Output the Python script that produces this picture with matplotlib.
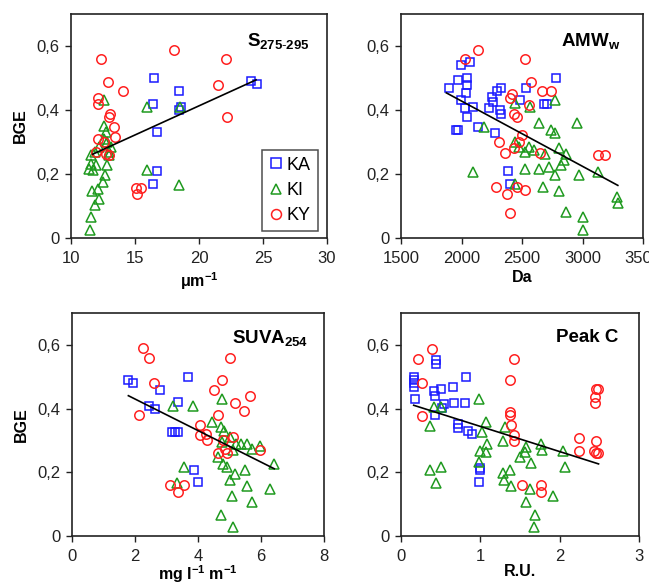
import matplotlib
matplotlib.use("Agg")
import matplotlib.pyplot as plt
import numpy as np

plt.rcParams['font.family'] = ['Liberation Sans', 'DejaVu Sans']
plt.rcParams['mathtext.fontset'] = 'custom'
plt.rcParams['mathtext.rm'] = 'Liberation Sans'
plt.rcParams['mathtext.bf'] = 'Liberation Sans:bold'
plt.rcParams['mathtext.it'] = 'Liberation Sans:italic'

# ---------------- Panel 1: S275-295 ----------------
s_ka_x = [16.5, 16.4, 18.4, 18.6, 18.4, 16.7, 16.7, 16.4, 24.1, 24.5]
s_ka_y = [0.50, 0.42, 0.46, 0.41, 0.40, 0.33, 0.21, 0.17, 0.49, 0.48]
s_ki_x = [12.56, 15.96, 18.52, 12.6, 12.7, 11.9, 11.57, 12.2, 12.8, 13.1, 12.99, 11.6, 11.44,
          11.7, 11.96, 12.8, 12.67, 12.5, 15.9, 18.42, 11.62, 12.09, 12.2, 11.9, 11.6, 11.5, 13.0, 12.6]
s_ki_y = [0.43, 0.41, 0.41, 0.35, 0.33, 0.27, 0.26, 0.285, 0.30, 0.285, 0.26, 0.23, 0.217,
          0.212, 0.228, 0.228, 0.196, 0.175, 0.212, 0.165, 0.147, 0.154, 0.123, 0.102, 0.066, 0.026, 0.27, 0.31]
s_ky_x = [12.35, 18.05, 22.08, 12.88, 14.05, 21.48, 12.09, 12.14, 13.06, 13.0, 22.16, 13.35, 13.4,
          12.09, 12.6, 11.96, 12.75, 13.0, 15.05, 15.5, 15.15]
s_ky_y = [0.558, 0.588, 0.558, 0.489, 0.459, 0.478, 0.438, 0.418, 0.389, 0.379, 0.379, 0.348, 0.316,
          0.308, 0.30, 0.269, 0.264, 0.259, 0.157, 0.157, 0.136]
s_fit = (0.0182, 0.049, 11.7, 24.46)   # slope, intercept, x start, x end

# ---------------- Panel 2: AMWw ----------------
a_ka_x = [1894, 1992, 2069, 1972, 2047, 2042, 2036, 1992, 2028, 2097, 2047, 2139, 1958, 1972, 2231,
          2256, 2264, 2292, 2328, 2319, 2325, 2278, 2381, 2397, 2536, 2486, 2681, 2708, 2778]
a_ka_y = [0.47, 0.54, 0.549, 0.494, 0.50, 0.478, 0.452, 0.431, 0.405, 0.408, 0.379, 0.348, 0.339, 0.339,
          0.407, 0.441, 0.426, 0.46, 0.468, 0.40, 0.389, 0.329, 0.209, 0.17, 0.47, 0.431, 0.419, 0.419, 0.499]
a_ki_x = [2097, 2189, 2439, 2564, 2769, 2644, 2736, 2769, 2958, 2444, 2472, 2528, 2556, 2597, 2694,
          2806, 2861, 2847, 2528, 2639, 2722, 2769, 2825, 2972, 3125, 2444, 2675, 2806, 2861, 3000,
          3008, 3286, 3292]
a_ki_y = [0.207, 0.348, 0.421, 0.408, 0.431, 0.358, 0.337, 0.327, 0.358, 0.30, 0.285, 0.269, 0.285,
          0.275, 0.264, 0.28, 0.264, 0.243, 0.217, 0.217, 0.222, 0.196, 0.228, 0.196, 0.207, 0.17,
          0.158, 0.147, 0.081, 0.066, 0.026, 0.128, 0.108]
a_ky_x = [2033, 2133, 2522, 2578, 2667, 2736, 2417, 2403, 2556, 2431, 2458, 2311, 2361, 2500, 2472,
          2431, 2647, 3125, 3186, 2283, 2375, 2458, 2528, 2397]
a_ky_y = [0.558, 0.588, 0.558, 0.489, 0.459, 0.459, 0.449, 0.438, 0.415, 0.389, 0.379, 0.299, 0.267,
          0.322, 0.30, 0.28, 0.267, 0.259, 0.259, 0.16, 0.139, 0.16, 0.149, 0.079]
a_fit = (-0.000204, 0.836, 1875, 3292)

# ---------------- Panel 3: SUVA254 ----------------
u_ka_x = [1.79, 1.95, 2.78, 3.69, 3.38, 2.46, 2.64, 3.17, 3.27, 3.38, 3.87, 4.01]
u_ka_y = [0.49, 0.48, 0.459, 0.50, 0.42, 0.409, 0.399, 0.328, 0.328, 0.328, 0.208, 0.17]
u_ki_x = [3.2, 3.83, 4.75, 4.46, 4.73, 4.83, 4.75, 5.01, 5.22, 5.38, 5.54, 5.7, 5.96, 5.12, 4.64,
          4.8, 4.91, 6.42, 5.49, 5.17, 5.01, 3.54, 3.32, 5.57, 6.28, 5.07, 5.72, 4.73, 5.12]
u_ki_y = [0.409, 0.409, 0.43, 0.359, 0.342, 0.329, 0.295, 0.31, 0.29, 0.29, 0.288, 0.274, 0.281,
          0.269, 0.248, 0.227, 0.217, 0.227, 0.206, 0.196, 0.175, 0.217, 0.167, 0.156, 0.146, 0.126,
          0.107, 0.066, 0.027]
u_ky_x = [2.25, 2.43, 5.03, 2.59, 4.75, 4.52, 5.65, 5.19, 5.47, 2.13, 4.62, 4.06, 4.06, 4.24, 4.28,
          4.78, 5.12, 4.85, 4.64, 4.91, 5.96, 3.1, 3.56, 3.36]
u_ky_y = [0.59, 0.558, 0.558, 0.479, 0.49, 0.459, 0.439, 0.417, 0.391, 0.38, 0.38, 0.349, 0.318,
          0.319, 0.30, 0.30, 0.31, 0.274, 0.26, 0.26, 0.271, 0.159, 0.159, 0.139]
u_fit = (-0.0495, 0.529, 1.79, 6.42)

# ---------------- Panel 4: Peak C ----------------
p_ka_x = [0.16, 0.17, 0.16, 0.17, 0.18, 0.44, 0.44, 0.41, 0.43, 0.51, 0.52, 0.54, 0.43, 0.66, 0.67,
          0.81, 0.82, 0.72, 0.72, 0.85, 0.89, 1.0, 0.99, 0.98]
p_ka_y = [0.50, 0.49, 0.48, 0.467, 0.429, 0.553, 0.54, 0.455, 0.439, 0.46, 0.403, 0.413, 0.38, 0.468,
          0.418, 0.418, 0.498, 0.351, 0.339, 0.33, 0.32, 0.213, 0.206, 0.169]
p_ki_x = [0.42, 0.51, 0.36, 0.98, 1.07, 1.02, 1.09, 1.07, 1.0, 0.98, 1.31, 1.28, 1.38, 1.28, 1.30,
          1.39, 0.36, 0.50, 0.44, 1.5, 1.56, 1.58, 1.64, 1.63, 1.58, 1.69, 1.68, 1.76, 1.78, 1.92,
          2.04, 2.07]
p_ki_y = [0.406, 0.406, 0.346, 0.429, 0.358, 0.325, 0.289, 0.263, 0.266, 0.232, 0.341, 0.297, 0.208,
          0.197, 0.177, 0.156, 0.208, 0.216, 0.166, 0.247, 0.265, 0.278, 0.228, 0.148, 0.107, 0.065,
          0.029, 0.289, 0.27, 0.126, 0.268, 0.216]
p_ky_x = [0.22, 0.39, 0.26, 0.26, 1.42, 1.37, 1.37, 1.37, 1.39, 1.42, 1.42, 1.53, 1.77, 1.77, 2.24,
          2.24, 2.46, 2.48, 2.45, 2.45, 2.46, 2.43, 2.46, 2.48]
p_ky_y = [0.557, 0.588, 0.479, 0.377, 0.557, 0.489, 0.39, 0.38, 0.348, 0.318, 0.297, 0.159, 0.159,
          0.138, 0.309, 0.268, 0.46, 0.46, 0.436, 0.418, 0.299, 0.268, 0.26, 0.26]
p_fit = (-0.079, 0.423, 0.16, 2.49)

y_ticks = [0, 0.2, 0.4, 0.6]
y_ticklabels = ['0', '0,2', '0,4', '0,6']

W, H = 649, 585
fig = plt.figure(figsize=(W / 100, H / 100), dpi=100)

def ax_px(left, right, top, bottom):
    return fig.add_axes([left / W, (H - bottom) / H, (right - left) / W, (bottom - top) / H])

BLUE = '#1a1aff'
GREEN = '#1f9a1f'
RED = '#ff2020'

def panel(ax, ka, ki, ky, fit, xlim, xticks, title, xlabel, ylabel, tx, ty, lpad):
    ms = 6.8
    ax.plot(ka[0], ka[1], ls='none', marker='s', ms=ms * 0.95, mfc='none', mec=BLUE, mew=1.1, label='KA')
    ax.plot(ki[0], ki[1], ls='none', marker='^', ms=ms * 1.1, mfc='none', mec=GREEN, mew=1.1, label='KI')
    ax.plot(ky[0], ky[1], ls='none', marker='o', ms=ms, mfc='none', mec=RED, mew=1.1, label='KY')
    slope, icpt, x0, x1 = fit
    fx = np.array([x0, x1])
    ax.plot(fx, slope * fx + icpt, color='black', lw=1.2)
    ax.set_xlim(*xlim)
    ax.set_ylim(0, 0.7)
    ax.set_xticks(xticks)
    ax.set_yticks(y_ticks)
    ax.set_yticklabels(y_ticklabels)
    ax.tick_params(direction='out', length=4.5, width=1, labelsize=12, colors='#222222')
    ax.tick_params(axis='x', pad=5)
    ax.tick_params(axis='y', pad=4)
    for s in ax.spines.values():
        s.set_linewidth(1.2)
        s.set_color('#222222')
    ax.text(tx, ty, title, transform=ax.transAxes, ha='right', va='center', fontsize=13.5,
            fontweight='bold')
    ax.set_xlabel(xlabel, fontsize=11.5, fontweight='bold', labelpad=lpad)
    if ylabel:
        ax.set_ylabel(ylabel, fontsize=11.5, fontweight='bold', labelpad=6)

ax1 = ax_px(71, 327, 14, 238)
panel(ax1, (s_ka_x, s_ka_y), (s_ki_x, s_ki_y), (s_ky_x, s_ky_y), s_fit, (10, 30), [10, 15, 20, 25, 30],
      r'$\mathbf{S_{275\text{-}295}}$', r'$\mathbf{\mu m^{-1}}$', 'BGE', 0.93, 0.88, 3)
leg = ax1.legend(loc='lower right', bbox_to_anchor=(0.965, 0.03), frameon=True, fancybox=False,
                 edgecolor='#222222', fontsize=13, handlelength=0.7, handletextpad=0.25,
                 labelspacing=0.45, borderpad=0.4, borderaxespad=0, markerscale=1.05)
leg.get_frame().set_linewidth(1.1)

ax2 = ax_px(401, 643, 14, 238)
panel(ax2, (a_ka_x, a_ka_y), (a_ki_x, a_ki_y), (a_ky_x, a_ky_y), a_fit, (1500, 3500),
      [1500, 2000, 2500, 3000, 3500], r'$\mathbf{AMW_{w}}$', 'Da', None, 0.905, 0.88, 3)

ax3 = ax_px(72, 324, 313, 536)
panel(ax3, (u_ka_x, u_ka_y), (u_ki_x, u_ki_y), (u_ky_x, u_ky_y), u_fit, (0, 8), [0, 2, 4, 6, 8],
      r'$\mathbf{SUVA_{254}}$', r'$\mathbf{mg\ l^{-1}\ m^{-1}}$', 'BGE', 0.935, 0.89, -1)

ax4 = ax_px(401, 639, 313, 536)
panel(ax4, (p_ka_x, p_ka_y), (p_ki_x, p_ki_y), (p_ky_x, p_ky_y), p_fit, (0, 3), [0, 1, 2, 3],
      'Peak C', 'R.U.', None, 0.915, 0.89, 0)

fig.savefig('out.png', dpi=100)
